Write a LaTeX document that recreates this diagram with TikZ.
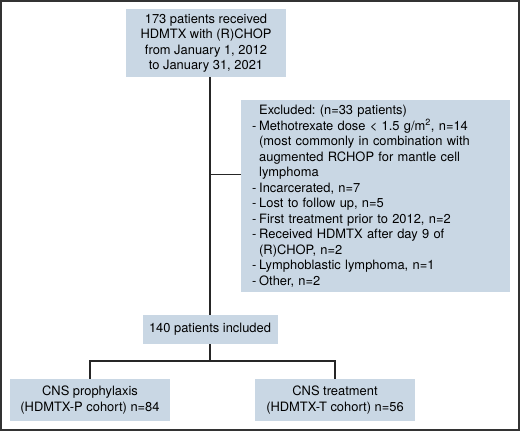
\documentclass[tikz,border=0pt]{standalone}
\usepackage{fontspec}
\setmainfont{TeX Gyre Heros}
\usetikzlibrary{positioning}

\definecolor{boxfill}{HTML}{C9D7E4}
\newcommand{\exdash}{\makebox[7pt][l]{-}}
\newcommand{\exgap}{\hspace*{7pt}}
\frenchspacing

\begin{document}
\begin{tikzpicture}
  [x=1pt,y=-1pt,
   stage/.style={fill=boxfill,inner sep=0pt,align=center,
     font=\fontsize{12.9}{15.5}\selectfont},
   link/.style={line width=1.4pt,draw=black!85}]

  \useasboundingbox (0,0) rectangle (520,431);
  \draw[line width=1.6pt,draw=black!80] (1,1) rectangle (519,430);

  \node[stage,minimum width=160pt,minimum height=68pt] (start) at (206,43)
    {173 patients received\\HDMTX with (R)CHOP\\from January 1, 2012\\to January 31, 2021};
  \node[stage,anchor=north west,align=left,inner xsep=11pt,text width=247pt,
        minimum height=192pt] (excluded) at (241,100)
    {\exgap Excluded: (n=33 patients)\\
     \exdash Methotrexate dose < 1.5 g/m\textsuperscript{2}, n=14\\
     \exgap(most commonly in combination with\\
     \exgap augmented RCHOP for mantle cell\\
     \exgap lymphoma\\
     \exdash Incarcerated, n=7\\
     \exdash Lost to follow up, n=5\\
     \exdash First treatment prior to 2012, n=2\\
     \exdash Received HDMTX after day 9 of\\
     \exgap(R)CHOP, n=2\\
     \exdash Lymphoblastic lymphoma, n=1\\
     \exdash Other, n=2};
  \node[stage,minimum width=135pt,minimum height=29pt] (included) at (210,329.5)
    {140 patients included};
  \node[stage,minimum width=160pt,minimum height=42pt] (prophylaxis) at (90,400)
    {CNS prophylaxis\\(HDMTX-P cohort) n=84};
  \node[stage,minimum width=160pt,minimum height=42pt] (treatment) at (335,400)
    {CNS treatment\\(HDMTX-T cohort) n=56};

  \coordinate (split) at (210,361);

  \draw[link] (start.south -| included.north) -- (included.north);
  \draw[link] ([yshift=22pt]excluded.west) -- ([yshift=22pt]excluded.west -| included.north);
  \draw[link] (included.south) -- (split);
  \draw[link] (prophylaxis.north) |- (split) -| (treatment.north);
\end{tikzpicture}
\end{document}
